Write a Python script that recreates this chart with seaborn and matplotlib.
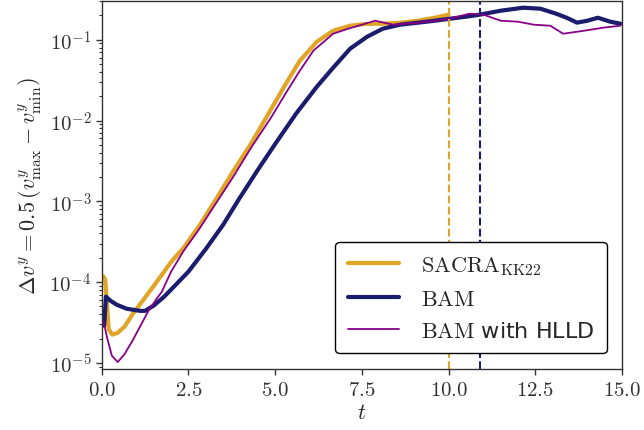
import numpy as np
import pandas as pd
import matplotlib
matplotlib.use("Agg")
import matplotlib.pyplot as plt
import matplotlib.ticker as mticker
import seaborn as sns

# ---- data ----
t_sacra = [0.05, 0.1, 0.2, 0.3, 0.45, 0.66, 0.9, 1.2, 1.58, 2.0, 2.35, 2.8, 3.3, 3.8, 4.3,
           4.8, 5.3, 5.71, 6.2, 6.67, 7.16, 7.6, 8.1, 8.6, 9.1, 9.6, 10.0]
logv_sacra = [-3.93, -3.97, -4.58, -4.65, -4.63, -4.55, -4.39, -4.22, -4.00, -3.75, -3.58, -3.31,
              -2.97, -2.62, -2.29, -1.92, -1.55, -1.26, -1.025, -0.889, -0.827, -0.805, -0.802,
              -0.79, -0.765, -0.728, -0.69]

t_bam = [0.07, 0.12, 0.25, 0.43, 0.72, 1.1, 1.25, 1.5, 1.8, 2.05, 2.5, 3.0, 3.5, 3.93,
         4.5, 5.0, 5.6, 6.2, 6.67, 7.16, 7.65, 8.1, 8.6, 9.1, 9.6, 10.04, 10.5, 10.9,
         11.5, 12.15, 12.64, 13.1, 13.4, 13.7, 14.0, 14.3, 14.66, 14.95]
logv_bam = [-4.54, -4.18, -4.23, -4.28, -4.33, -4.356, -4.356, -4.29, -4.18, -4.07, -3.87,
            -3.59, -3.29, -2.99, -2.61, -2.29, -1.916, -1.582, -1.347, -1.111, -0.963,
            -0.864, -0.814, -0.79, -0.765, -0.74, -0.715, -0.69, -0.641, -0.604, -0.616, -0.678,
            -0.728, -0.789, -0.765, -0.728, -0.777, -0.802]

t_hlld = [0.05, 0.15, 0.29, 0.46, 0.66, 0.9, 1.1, 1.33, 1.58, 1.73, 2.0, 2.35, 2.8, 3.3, 3.8,
          4.3, 4.9, 5.33, 5.71, 6.1, 6.67, 7.1, 7.5, 7.88, 8.4, 9.1, 9.6, 10.04, 10.6, 11.0,
          11.5, 12.0, 12.45, 12.93, 13.3, 13.9, 14.46, 14.95]
logv_hlld = [-4.48, -4.68, -4.91, -4.99, -4.89, -4.715, -4.554, -4.368, -4.207, -4.121, -3.87,
             -3.62, -3.35, -3.02, -2.69, -2.34, -1.95, -1.644, -1.384, -1.136, -0.926, -0.864,
             -0.814, -0.765, -0.814, -0.79, -0.765, -0.74, -0.678, -0.69, -0.765, -0.777,
             -0.814, -0.827, -0.926, -0.889, -0.851, -0.827]

t_merger_sacra = 10.0
t_merger_bam = 10.9

labels = [r"$\mathrm{SACRA}_{\mathrm{KK22}}$", r"$\mathrm{BAM}$", r"$\mathrm{BAM}$ with HLLD"]
colors = ["#E0A526", "#1C1C6E", "#880088"]
widths = [3.0, 3.0, 1.3]

# ---- style ----
sns.set_theme(style="ticks")
plt.rcParams["font.family"] = ["DejaVu Sans"]
plt.rcParams["mathtext.fontset"] = "cm"
plt.rcParams["axes.edgecolor"] = "#333333"
plt.rcParams["xtick.color"] = "#333333"
plt.rcParams["ytick.color"] = "#333333"

fig = plt.figure(figsize=(6.44, 4.31), dpi=100)
ax = fig.add_axes([0.158, 0.1415, 0.808, 0.8535])

series = [(t_sacra, logv_sacra), (t_bam, logv_bam), (t_hlld, logv_hlld)]
for (t, lv), lab, c, lw in zip(series, labels, colors, widths):
    df = pd.DataFrame({"t": t, "v": 10.0 ** np.array(lv)})
    sns.lineplot(data=df, x="t", y="v", ax=ax, color=c, lw=lw, label=lab,
                 estimator=None, sort=False)

ax.axvline(t_merger_sacra, color=colors[0], ls="--", lw=1.5)
ax.axvline(t_merger_bam, color=colors[1], ls="--", lw=1.5)

ax.set_yscale("log")
ax.set_xlim(0, 15)
ax.set_ylim(8.4e-6, 0.30)

ax.xaxis.set_major_locator(mticker.MultipleLocator(2.5))
ax.xaxis.set_major_formatter(mticker.FuncFormatter(lambda x, p: r"$%.1f$" % x))
ax.yaxis.set_major_locator(mticker.LogLocator(base=10, numticks=10))
ax.yaxis.set_major_formatter(mticker.FuncFormatter(
    lambda y, p: r"$10^{%d}$" % int(round(np.log10(y)))))
ax.yaxis.set_minor_locator(mticker.LogLocator(base=10, subs=np.arange(2, 10), numticks=20))
ax.yaxis.set_minor_formatter(mticker.NullFormatter())

ax.tick_params(axis="both", which="major", labelsize=15, length=4, width=1, direction="out")
ax.tick_params(axis="y", which="minor", length=2.5, width=0.8)

ax.set_xlabel(r"$t$", fontsize=16, labelpad=2)
ax.set_ylabel(r"$\Delta v^y = 0.5\,(v^y_{\rm max} - v^y_{\rm min})$", fontsize=16, labelpad=4)

for s in ax.spines.values():
    s.set_visible(True)
    s.set_linewidth(1.0)

leg = ax.legend(loc="lower right", fontsize=16, frameon=True, fancybox=True, framealpha=1,
                edgecolor="black", handlelength=2.3, handletextpad=1.0, borderpad=0.55,
                borderaxespad=0.7, labelspacing=0.55)
leg.get_frame().set_linewidth(1.0)

fig.savefig("out.png", dpi=100)
